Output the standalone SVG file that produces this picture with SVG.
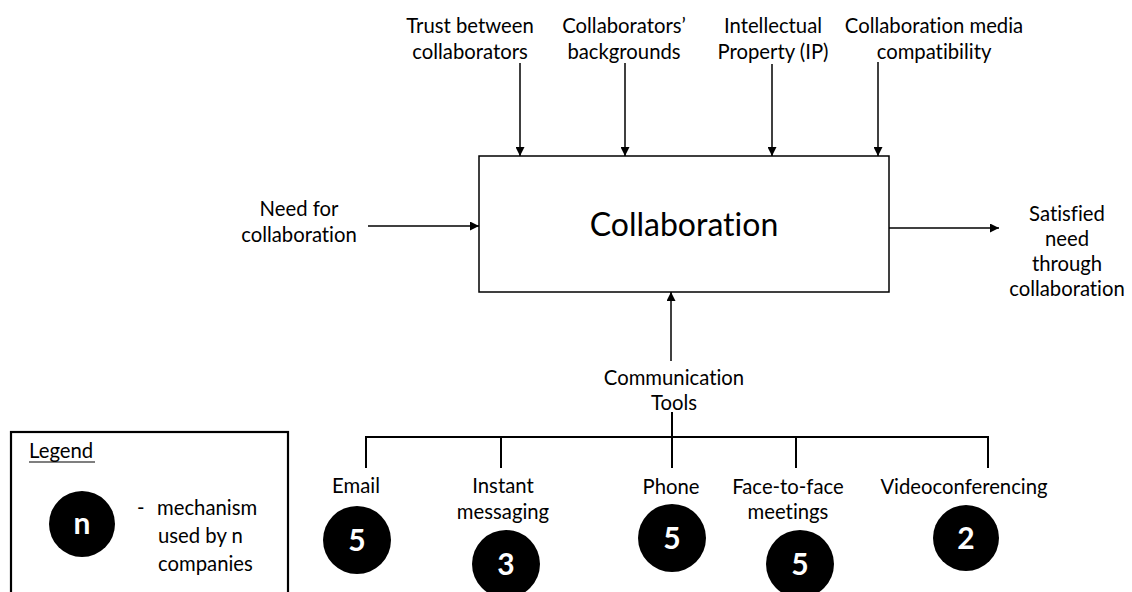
<svg xmlns="http://www.w3.org/2000/svg" width="1132" height="592" viewBox="0 0 1132 592">
  <style>
    text { font-variant-ligatures: none; font-family: Lato, "Liberation Sans", sans-serif; }
    .lbl { font-size: 20.3px; fill: #000; text-anchor: middle; }
    .lbl-start { font-size: 20.3px; fill: #000; }
    .title { font-size: 32px; fill: #000; text-anchor: middle; }
    .num { font-size: 30px; font-weight: bold; fill: #fff; text-anchor: middle; }
    .arrow { stroke: #000; stroke-width: 1.5; fill: none; marker-end: url(#head); }
    .tree { stroke: #000; stroke-width: 2; fill: none; }
    .dot { fill: #000; }
  </style>
  <defs>
    <marker id="head" viewBox="0 0 10 10" refX="10" refY="5" markerWidth="9" markerHeight="9" markerUnits="userSpaceOnUse" orient="auto">
      <path d="M0,0 L10,5 L0,10 Z" fill="#000"/>
    </marker>
  </defs>
  <rect width="1132" height="592" fill="#fff"/>

  <!-- central activity -->
  <g id="collaboration">
    <rect x="479" y="156" width="410" height="136" fill="#fff" stroke="#000" stroke-width="1.5"/>
    <text class="title" x="684" y="236">Collaboration</text>
  </g>

  <!-- controls above the activity -->
  <g id="trust">
    <text class="lbl" x="470" y="33">Trust between</text>
    <text class="lbl" x="470" y="59">collaborators</text>
  </g>
  <g id="backgrounds">
    <text class="lbl" x="624" y="33">Collaborators’</text>
    <text class="lbl" x="624" y="59">backgrounds</text>
  </g>
  <g id="ip">
    <text class="lbl" x="773" y="33">Intellectual</text>
    <text class="lbl" x="773" y="59">Property (IP)</text>
  </g>
  <g id="media">
    <text class="lbl" x="934" y="33">Collaboration media</text>
    <text class="lbl" x="934" y="59">compatibility</text>
  </g>

  <!-- input and output -->
  <g id="need">
    <text class="lbl" x="299" y="216">Need for</text>
    <text class="lbl" x="299" y="242">collaboration</text>
  </g>
  <g id="satisfied">
    <text class="lbl" x="1067" y="221">Satisfied</text>
    <text class="lbl" x="1067" y="246">need</text>
    <text class="lbl" x="1067" y="271">through</text>
    <text class="lbl" x="1067" y="296">collaboration</text>
  </g>

  <!-- mechanism -->
  <g id="tools">
    <text class="lbl" x="674" y="385">Communication</text>
    <text class="lbl" x="674" y="410">Tools</text>
  </g>

  <g id="email">
    <text class="lbl" x="356" y="493">Email</text>
    <circle class="dot" cx="357" cy="540" r="34"/>
    <text class="num" x="357" y="551">5</text>
  </g>
  <g id="instant-messaging">
    <text class="lbl" x="503" y="493">Instant</text>
    <text class="lbl" x="503" y="519">messaging</text>
    <circle class="dot" cx="506" cy="564" r="34"/>
    <text class="num" x="506" y="575">3</text>
  </g>
  <g id="phone">
    <text class="lbl" x="671" y="494">Phone</text>
    <circle class="dot" cx="672" cy="538" r="34"/>
    <text class="num" x="672" y="549">5</text>
  </g>
  <g id="face-to-face">
    <text class="lbl" x="788" y="494">Face-to-face</text>
    <text class="lbl" x="788" y="519">meetings</text>
    <circle class="dot" cx="800" cy="564" r="34"/>
    <text class="num" x="800" y="575">5</text>
  </g>
  <g id="videoconferencing">
    <text class="lbl" x="964" y="494">Videoconferencing</text>
    <circle class="dot" cx="966" cy="538" r="33"/>
    <text class="num" x="966" y="549">2</text>
  </g>

  <!-- legend -->
  <g id="legend">
    <rect x="11" y="432" width="277" height="175" fill="none" stroke="#000" stroke-width="2.2"/>
    <text class="lbl-start" x="29" y="458">Legend</text>
    <line x1="29" y1="462" x2="95" y2="462" stroke="#000" stroke-width="1.2"/>
    <circle class="dot" cx="82" cy="524" r="33"/>
    <text class="num" x="82" y="534">n</text>
    <text class="lbl-start" x="137" y="515">-</text>
    <text class="lbl-start" x="157" y="515">mechanism</text>
    <text class="lbl-start" x="158" y="543">used by n</text>
    <text class="lbl-start" x="158" y="571">companies</text>
  </g>

  <!-- connectors -->
  <g id="connectors">
    <line class="arrow" x1="520" y1="63" x2="520" y2="156"/>
    <line class="arrow" x1="625" y1="63" x2="625" y2="156"/>
    <line class="arrow" x1="772" y1="64" x2="772" y2="156"/>
    <line class="arrow" x1="878" y1="62" x2="878" y2="156"/>
    <line class="arrow" x1="368" y1="226" x2="479" y2="226"/>
    <line class="arrow" x1="889" y1="228" x2="999" y2="228"/>
    <line class="arrow" x1="671" y1="361" x2="671" y2="292"/>
    <line class="tree" x1="672" y1="412" x2="672" y2="437"/>
    <line class="tree" x1="365" y1="437" x2="989" y2="437"/>
    <line class="tree" x1="366" y1="436" x2="366" y2="468"/>
    <line class="tree" x1="501" y1="437" x2="501" y2="468"/>
    <line class="tree" x1="672" y1="437" x2="672" y2="468"/>
    <line class="tree" x1="796" y1="437" x2="796" y2="468"/>
    <line class="tree" x1="988" y1="436" x2="988" y2="468"/>
  </g>
</svg>
